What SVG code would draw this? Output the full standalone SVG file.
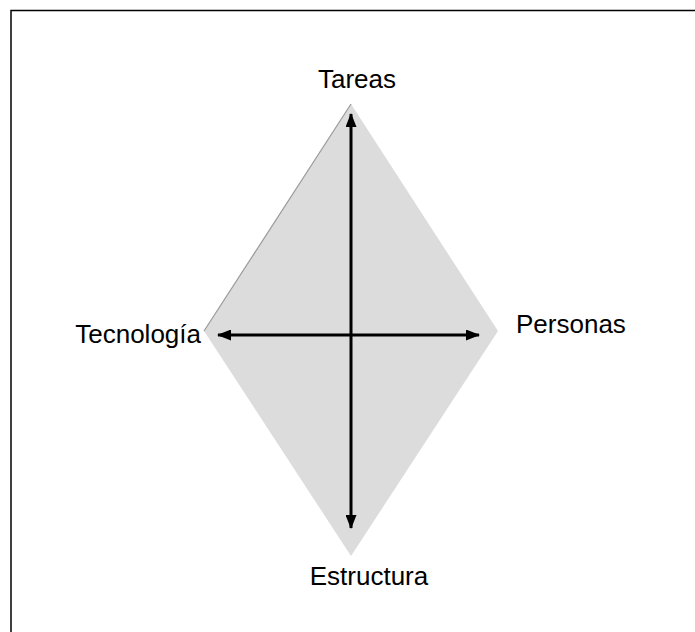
<svg xmlns="http://www.w3.org/2000/svg" width="695" height="632" viewBox="0 0 695 632">
<style>
.lbl{font-family:"Liberation Sans",Arial,sans-serif;font-size:26px;fill:#000}
.axis{stroke:#000;stroke-width:3;fill:none}
</style>
<defs>
<marker id="ah" viewBox="0 0 14 11" refX="13" refY="5.5" markerWidth="14" markerHeight="11" markerUnits="userSpaceOnUse" orient="auto-start-reverse">
<path d="M0,0 L14,5.5 L0,11 Z" fill="#000"/>
</marker>
</defs>
<rect width="695" height="632" fill="#fff"/>
<path d="M11,632 L11,10.5 L695,10.5" fill="none" stroke="#000" stroke-width="1.5"/>
<g id="diamond">
<polygon points="351,104 498,331 351,556 204,331" fill="#dcdcdc"/>
<line x1="351" y1="104" x2="204" y2="331" stroke="#9a9a9a" stroke-width="1.2"/>
</g>
<g id="connectors">
<line class="axis" x1="351" y1="114" x2="351" y2="528" marker-start="url(#ah)" marker-end="url(#ah)"/>
<line class="axis" x1="218" y1="335" x2="479" y2="335" marker-start="url(#ah)" marker-end="url(#ah)"/>
</g>
<g id="tareas"><text class="lbl" x="357" y="88" text-anchor="middle">Tareas</text></g>
<g id="tecnologia"><text class="lbl" x="201" y="343" text-anchor="end">Tecnología</text></g>
<g id="personas"><text class="lbl" x="516" y="333">Personas</text></g>
<g id="estructura"><text class="lbl" x="369" y="585" text-anchor="middle">Estructura</text></g>
</svg>
